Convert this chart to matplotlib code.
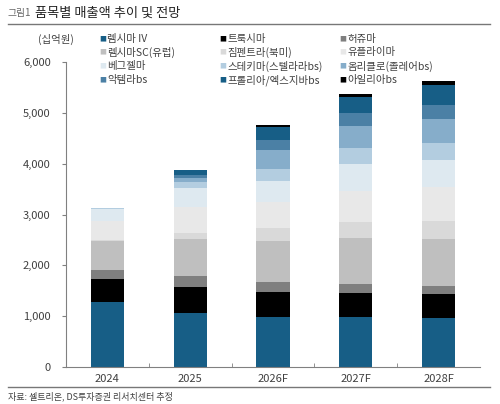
import numpy as np
import matplotlib.pyplot as plt
from matplotlib.ticker import FuncFormatter

plt.rcParams['font.family'] = ['Noto Sans CJK KR', 'DejaVu Sans']

years = ['2024', '2025', '2026F', '2027F', '2028F']

# 품목별 매출액 (십억원), 아래에서 위로 쌓는 순서
remsima_iv = [1270, 1053, 986, 980, 967]
truxima = [455, 513, 493, 468, 467]
herzuma = [180, 223, 198, 183, 164]
remsima_sc = [580, 730, 808, 902, 921]
zymfentra = [15, 112, 245, 316, 361]
yuflyma = [370, 525, 525, 623, 670]
vegzelma = [235, 362, 408, 521, 527]
steqeyma = [20, 130, 243, 316, 341]
omlyclo = [0, 65, 369, 427, 467]
aktemra = [0, 65, 197, 264, 277]
prolia = [0, 100, 250, 316, 388]
eylea = [0, 0, 33, 55, 91]

names = ['렘시마 IV', '트룩시마', '허쥬마', '렘시마SC(유럽)', '짐펜트라(북미)', '유플라이마',
         '베그젤마', '스테키마(스텔라라bs)', '옴리클로(졸레어bs)', '악템라bs', '프롤리아/엑스지바bs', '아일리아bs']
series = [remsima_iv, truxima, herzuma, remsima_sc, zymfentra, yuflyma,
          vegzelma, steqeyma, omlyclo, aktemra, prolia, eylea]
colors = ['#175e86', '#000000', '#7f7f7f', '#bfbfbf', '#d9d9d9', '#e8e8e8',
          '#dee9f0', '#b3cde0', '#86adca', '#4b80a5', '#175e86', '#000000']

fig = plt.figure(figsize=(5.0, 4.04), dpi=100)
ax = fig.add_axes([0.132, 0.0923, 0.828, 0.7535])

x = np.arange(len(years))
bottom = np.zeros(len(years))
for vals, c in zip(series, colors):
    ax.bar(x, vals, width=0.4, bottom=bottom, color=c, linewidth=0)
    bottom += np.array(vals)

ax.set_xlim(-0.5, len(years) - 0.5)
ax.set_ylim(0, 6000)
ax.set_yticks(np.arange(0, 6001, 1000))
ax.yaxis.set_major_formatter(FuncFormatter(lambda v, p: f'{int(v):,}'))
ax.set_xticks(x)
ax.set_xticklabels(years)
ax.set_xticks(np.arange(0.5, len(years) - 1, 1), minor=True)
ax.tick_params(axis='x', which='major', length=0, labelsize=8, colors='#404040', pad=5)
ax.tick_params(axis='x', which='minor', length=3, direction='in', color='#808080')
ax.tick_params(axis='y', length=3, direction='out', color='#808080', labelsize=8, labelcolor='#404040', pad=8)
for s in ['top', 'right']:
    ax.spines[s].set_visible(False)
ax.spines['left'].set_color('#808080')
ax.spines['bottom'].set_color('#808080')
ax.spines['left'].set_linewidth(0.8)
ax.spines['bottom'].set_linewidth(0.8)

# 제목
fig.text(8 / 500, 1 - 13 / 404, '그림1', fontsize=7, color='#666666', va='center')
fig.text(35 / 500, 1 - 13 / 404, '품목별 매출액 추이 및 전망', fontsize=9.5, color='#222222', va='center')
fig.add_artist(plt.Line2D([8 / 500, 490 / 500], [1 - 23.5 / 404] * 2, color='#777777', lw=1.0))

fig.text(56 / 500, 1 - 39 / 404, '(십억원)', fontsize=7.5, color='#404040', ha='center', va='center')

# 범례 (행 우선 배치)
col_x = [99 / 500, 219 / 500, 339 / 500]
row_y = [1 - 39 / 404, 1 - 52.5 / 404, 1 - 66 / 404, 1 - 80 / 404]
for i, (name, c) in enumerate(zip(names, colors)):
    r, k = divmod(i, 3)
    fig.text(col_x[k], row_y[r], '■', color=c, fontsize=5, va='center')
    fig.text(col_x[k] + 8 / 500, row_y[r], name, fontsize=7.5, color='#404040', va='center')

# 출처
fig.add_artist(plt.Line2D([8 / 500, 490 / 500], [1 - 386.5 / 404] * 2, color='#777777', lw=1.0))
fig.text(8 / 500, 1 - 396 / 404, '자료: 셀트리온, DS투자증권 리서치센터 추정', fontsize=6.5, color='#404040', va='center')

fig.savefig('out.png', dpi=100)
